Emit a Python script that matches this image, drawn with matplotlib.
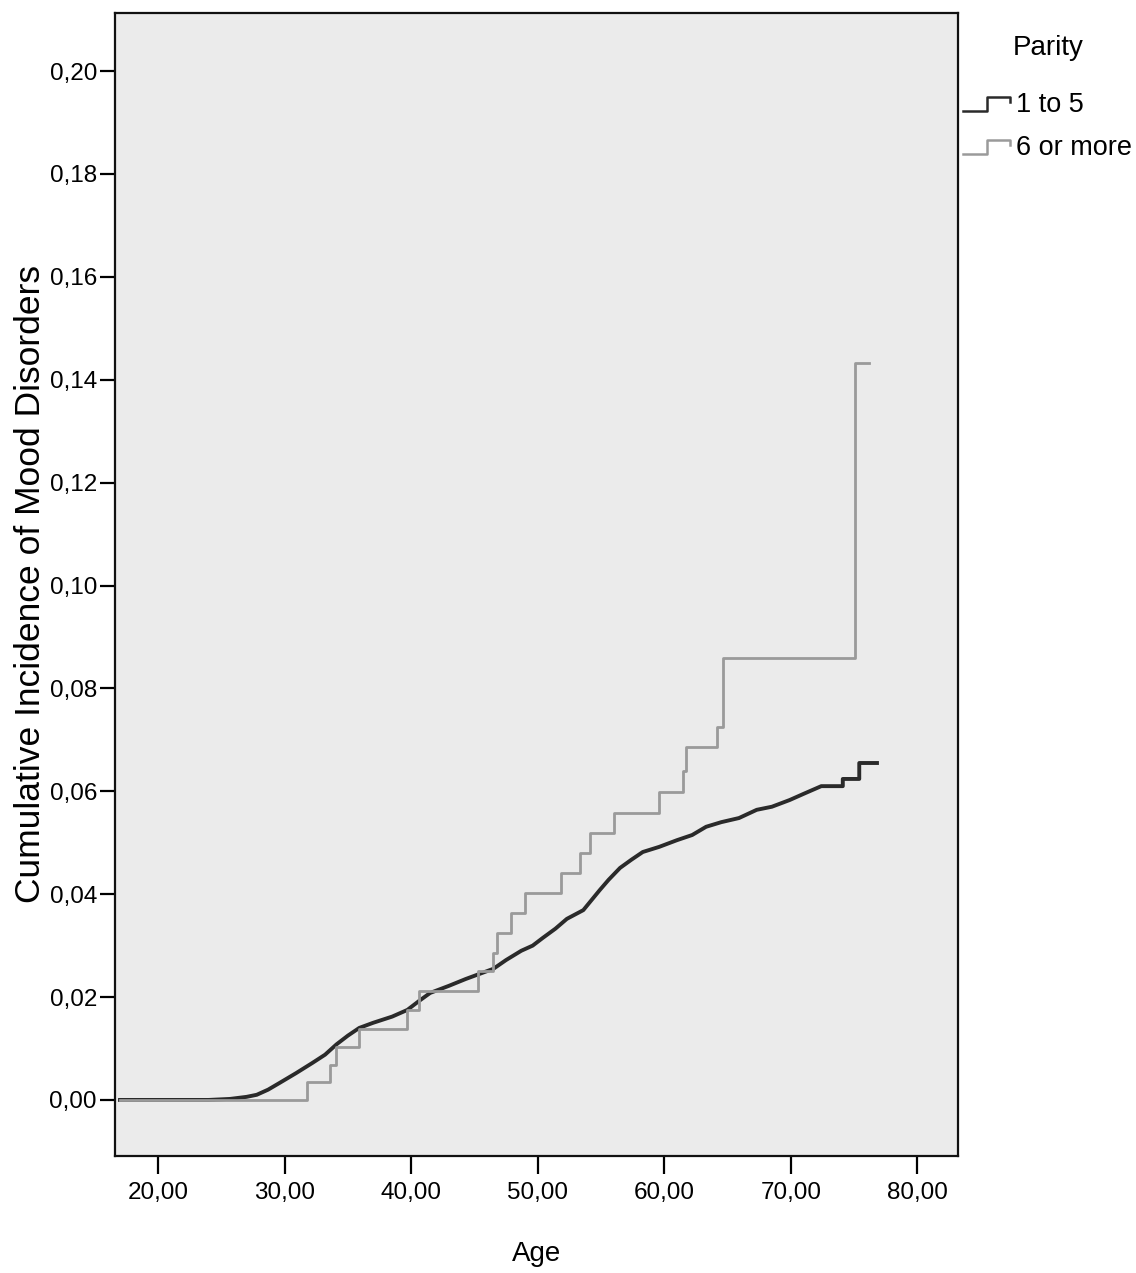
import matplotlib.pyplot as plt
from matplotlib.lines import Line2D
from matplotlib.ticker import FuncFormatter

# cumulative incidence by parity
age_low = [17.0, 24.0, 25.7, 27.0, 27.8, 28.7, 29.6, 30.9, 32.2, 33.2, 34.1, 35.0,
           35.9, 37.0, 38.5, 39.7, 40.6, 41.5, 43.0, 44.3, 45.4, 46.5, 47.5, 48.7,
           49.6, 50.4, 51.4, 52.3, 53.6, 54.3, 54.9, 55.6, 56.5, 57.4, 58.3, 59.6,
           61.0, 62.2, 63.3, 64.5, 65.9, 67.3, 68.5, 69.9, 71.0, 72.4, 74.1, 74.1,
           75.4, 75.4, 76.8]
inc_low = [0.0, 0.0, 0.0002, 0.0006, 0.0010, 0.0020, 0.0033, 0.0052, 0.0072, 0.0088,
           0.0108, 0.0125, 0.0140, 0.0150, 0.0162, 0.0175, 0.0192, 0.0208, 0.0222,
           0.0235, 0.0245, 0.0255, 0.0272, 0.0290, 0.0300, 0.0315, 0.0333, 0.0352,
           0.0369, 0.0390, 0.0408, 0.0428, 0.0451, 0.0467, 0.0482, 0.0492, 0.0505,
           0.0515, 0.0531, 0.0540, 0.0548, 0.0564, 0.0570, 0.0583, 0.0595, 0.0610,
           0.0610, 0.0624, 0.0624, 0.0655, 0.0655]

age_high = [17.0, 31.8, 33.6, 34.1, 35.9, 39.7, 40.6, 45.3, 46.5, 46.8, 47.9, 49.0,
            51.8, 53.3, 54.1, 56.0, 59.6, 61.5, 61.7, 64.2, 64.6, 75.1, 76.2]
inc_high = [0.0, 0.0034, 0.0068, 0.0103, 0.0138, 0.0175, 0.0212, 0.0250, 0.0285,
            0.0325, 0.0363, 0.0402, 0.0441, 0.0480, 0.0519, 0.0558, 0.0599, 0.0639,
            0.0686, 0.0725, 0.0859, 0.1432, 0.1432]

labels = ["1 to 5", "6 or more"]
colors = ["#2a2a2a", "#9a9a9a"]

fnt = ["Liberation Sans Narrow", "Liberation Sans", "DejaVu Sans"]

fig = plt.figure(figsize=(11.36, 12.73), dpi=100)
ax = fig.add_axes([0.1012, 0.0919, 0.7421, 0.8979])
ax.set_facecolor("#ebebeb")

# black curve has many tiny steps, drawn as a line; gray one is a clear step curve
ax.plot(age_low, inc_low, color=colors[0], lw=2.8)
ax.plot(age_high, inc_high, drawstyle="steps-post", color=colors[1], lw=2.0)

ax.set_xlim(16.6, 83.2)
ax.set_ylim(-0.0109, 0.2113)
ax.set_xticks(range(20, 81, 10))
ax.set_yticks([i * 0.02 for i in range(11)])
ax.xaxis.set_major_formatter(FuncFormatter(lambda v, p: f"{v:.2f}".replace(".", ",")))
ax.yaxis.set_major_formatter(FuncFormatter(lambda v, p: f"{v:.2f}".replace(".", ",")))
ax.tick_params(axis="x", direction="out", length=13, width=1.6, pad=6, labelsize=17.5)
ax.tick_params(axis="y", direction="out", length=11, width=1.6, pad=2, labelsize=17.5)
for lab in ax.get_xticklabels() + ax.get_yticklabels():
    lab.set_family(fnt)
for s in ax.spines.values():
    s.set_linewidth(1.6)
    s.set_color("#111111")

ax.set_xlabel("Age", family=fnt, fontsize=20, labelpad=26)
ax.set_ylabel("Cumulative Incidence of Mood Disorders", family=["Liberation Sans", "DejaVu Sans"],
              fontsize=25.5, labelpad=2)

# legend drawn outside the axes, SPSS style
fig.text(1048 / 1136, 1 - 48 / 1273, "Parity", family=fnt, fontsize=20,
         ha="center", va="center")
for i, (lab, c) in enumerate(zip(labels, colors)):
    yb = 111 + 43 * i
    xs = [963, 987, 987, 1010, 1010]
    ys = [yb, yb, yb - 14, yb - 14, yb - 9]
    fig.add_artist(Line2D([x / 1136 for x in xs], [1 - y / 1273 for y in ys],
                          color=c, lw=1.8, transform=fig.transFigure))
    fig.text(1016 / 1136, 1 - (yb - 6) / 1273, lab, family=fnt, fontsize=19.5,
             ha="left", va="center")

fig.savefig("out.png", dpi=100)
